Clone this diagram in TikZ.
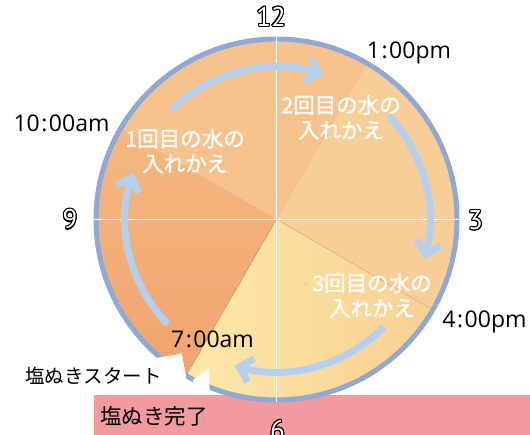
\documentclass[tikz,border=0pt]{standalone}
\usepackage{fontspec}
\setmainfont{Noto Sans CJK JP}
\newfontfamily\jmedium[FakeBold=1.2]{Noto Sans CJK JP}
\newfontfamily\timefont{Open Sans}
\newfontfamily\numfont{PT Sans}
\usetikzlibrary{arrows.meta,calc}
\definecolor{rimblue}{HTML}{8FA8D6}
\definecolor{flowblue}{HTML}{B5CFEE}
\definecolor{bandpink}{HTML}{F29AA0}
\definecolor{secAtop}{HTML}{F5B880}
\definecolor{secAbot}{HTML}{F1A470}
\definecolor{secB}{HTML}{F7C28C}
\definecolor{secC}{HTML}{F8CE98}
\definecolor{secDl}{HTML}{FDE8A8}
\definecolor{secDr}{HTML}{F8D093}
\definecolor{seam}{HTML}{EDB888}
\newcommand\outlinedlabel[3]{%
  \foreach \ang in {0,22.5,...,337.5}{\node[bignum,text=black] at ($(#2)+(\ang:1.1pt)$) {#3};}%
  \node[bignum,text=white] (#1) at (#2) {#3};}
\begin{document}
\begin{tikzpicture}[x=1pt,y=1pt,
  bignum/.style={font=\numfont\fontsize{27}{27}\selectfont, inner sep=0pt},
  timelbl/.style={font=\timefont\fontsize{23}{23}\selectfont, text=black, inner sep=0pt, anchor=base},
  steplbl/.style={font=\jmedium\fontsize{21.5}{25}\selectfont, text=white, align=center, inner sep=0pt},
  sidelbl/.style={font=\fontsize{19.5}{20}\selectfont, text=black, inner sep=0pt},
  flowarrow/.style={draw=flowblue, line width=7pt, -{Straight Barb[length=12pt,width=24pt]}},
  hairline/.style={draw=seam, line width=0.4pt},
  axisline/.style={draw=white, line width=1.6pt}]
\useasboundingbox (0,0) rectangle (530,435);
\node[fill=bandpink, minimum width=436pt, minimum height=40pt, inner sep=0pt, anchor=south west] (band) at (94,0) {};
\coordinate (C) at (276.5,215.5);
% sectors
\fill[top color=secAtop, bottom color=secAbot] (C) -- ++(150:180.5) arc[start angle=150,end angle=240,radius=180.5] -- cycle;
\fill[secB] (C) -- ++(60:180.5) arc[start angle=60,end angle=150,radius=180.5] -- cycle;
\fill[secC] (C) -- ++(-30:180.5) arc[start angle=-30,end angle=60,radius=180.5] -- cycle;
\fill[left color=secDl, right color=secDr] (C) -- ++(-120:180.5) arc[start angle=-120,end angle=-30,radius=180.5] -- cycle;
\draw[hairline] (C) -- ++(150:180) (C) -- ++(60:180) (C) -- ++(-30:180);
% rim
\draw[rimblue, line width=5pt] (C) circle[radius=180.5];
% axes
\draw[axisline] ($(C)+(0,183)$) -- ($(C)+(0,-183)$);
\draw[axisline] ($(C)+(-183,0)$) -- ($(C)+(183,0)$);
% flow arrows
\draw[flowarrow] ($(C)+(134:152)$) arc[start angle=134,end angle=72,radius=152];
\draw[flowarrow] ($(C)+(43:153)$) arc[start angle=43,end angle=-15,radius=153];
\draw[flowarrow] ($(C)+(-45:152)$) arc[start angle=-45,end angle=-106,radius=152];
\draw[flowarrow] ($(C)+(-136:151)$) arc[start angle=-136,end angle=-198,radius=151];
% notch at 7 o'clock
\fill[white] (145,75) -- (181.7,81.5) -- (186,59) -- (186,40) -- (145,40) -- cycle;
\fill[white] (193,55) -- (208.3,66.7) -- (210,42) -- (210,40) -- (193,40) -- cycle;
% clock numbers
\outlinedlabel{n12}{271,418.5}{12}
\outlinedlabel{n3}{475.5,214.5}{3}
\outlinedlabel{n6}{277.5,5}{6}
\outlinedlabel{n9}{70,215.5}{9}
% times
\node[timelbl] (t1) at (409,376) {1\kern1.5pt:\kern1.5pt00pm};
\node[timelbl] (t10) at (61.5,303) {10\kern1.5pt:\kern1.5pt00am};
\node[timelbl] (t4) at (484.5,107) {4\kern1.5pt:\kern1.5pt00pm};
\node[timelbl] (t7) at (212.5,87) {7\kern1.5pt:\kern1.5pt00am};
% step labels
\node[steplbl] (s1) at (185,284) {1回目の水の\\入れかえ};
\node[steplbl] (s2) at (341,317.5) {2回目の水の\\入れかえ};
\node[steplbl] (s3) at (372,139.5) {3回目の水の\\入れかえ};
% side labels
\node[sidelbl] (start) at (93.5,59) {塩ぬきスタート};
\node[font=\fontsize{21.5}{22}\selectfont, inner sep=0pt, text=black] (done) at (154,19) {塩ぬき完了};
\end{tikzpicture}
\end{document}
